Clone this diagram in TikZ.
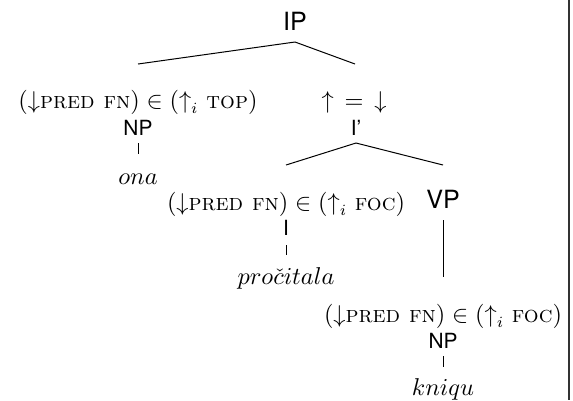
\documentclass[tikz,border=0pt]{standalone}
\usepackage{fontspec}
\setsansfont{TeX Gyre Heros}
\newcommand{\fsann}[1]{$(\mathord{\downarrow}\textsc{pred fn}) \in (\mathord{\uparrow}_i\ \textsc{#1})$}
\begin{document}
\begin{tikzpicture}[x=0.45pt,y=-0.45pt,
  cat/.style={font=\sffamily\fontsize{9.4}{11}\selectfont, inner sep=0pt, anchor=base},
  bigcat/.style={font=\sffamily\fontsize{11.3}{13}\selectfont, inner sep=0pt, anchor=base},
  ann/.style={font=\fontsize{10.5}{12}\selectfont, inner sep=0pt},
  leaf/.style={font=\fontsize{11}{13}\selectfont, inner sep=0pt, anchor=base},
  edge/.style={line width=0.45pt},
  frame/.style={line width=0.7pt, draw=black!80}]
\useasboundingbox (0,0) rectangle (573,400);
% nodes
\node[bigcat] (ip) at (295,30) {IP};
\node[ann] (a1) at (138,102) {\fsann{top}};
\node[cat] (np1) at (138,135) {NP};
\node[leaf] (ona) at (138,184) {$ona$};
\node[ann] (a2) at (354,102) {$\mathord{\uparrow}\,=\,\mathord{\downarrow}$};
\node[cat] (ibar) at (356,135) {I'};
\node[ann] (a3) at (286,204) {\fsann{foc}};
\node[cat] (i) at (286,235) {I};
\node[leaf] (proc) at (286,284) {$pro\check{c}itala$};
\node[bigcat] (vp) at (443,208) {VP};
\node[ann] (a4) at (443,316) {\fsann{foc}};
\node[cat] (np2) at (443,348) {NP};
\node[leaf] (kniqu) at (443,395) {$kniqu$};
% edge end points
\coordinate (ipB) at (295,42);
\coordinate (a1T) at (138,64);
\coordinate (a2T) at (355,64);
\coordinate (ibarB) at (356,143);
\coordinate (a3T) at (286,165);
\coordinate (vpT) at (443,165);
\coordinate (np1B) at (138,143);
\coordinate (onaT) at (138,154);
\coordinate (iB) at (286,245);
\coordinate (procT) at (286,255);
\coordinate (vpB) at (443,220);
\coordinate (a4T) at (443,277);
\coordinate (np2B) at (443,356);
\coordinate (kniquT) at (443,367);
% edges
\draw[edge] (ipB) -- (a1T);
\draw[edge] (ipB) -- (a2T);
\draw[edge] (ibarB) -- (a3T);
\draw[edge] (ibarB) -- (vpT);
\draw[edge] (np1B) -- (onaT);
\draw[edge] (iB) -- (procT);
\draw[edge] (vpB) -- (a4T);
\draw[edge] (np2B) -- (kniquT);
% frame line
\coordinate (fT) at (569,0);
\coordinate (fB) at (569,400);
\draw[frame] (fT) -- (fB);
\end{tikzpicture}
\end{document}
